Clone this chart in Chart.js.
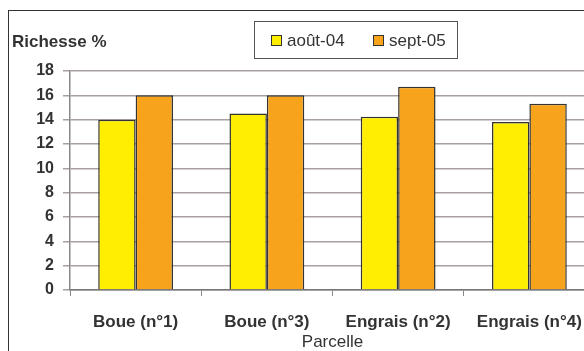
<!DOCTYPE html>
<html>
<head>
<meta charset="utf-8">
<script src="https://cdn.jsdelivr.net/npm/chart.js@4/dist/chart.umd.min.js"></script>
<style>
  body { margin: 0; overflow: hidden; background: #fff; }
  #wrap { position: relative; width: 584px; height: 351px; overflow: hidden; }
  #frame { position: absolute; left: 8px; top: 10px; width: 700px; height: 400px;
           border-left: 1px solid #333; border-top: 1px solid #333; }
  canvas { position: absolute; left: 0; top: 0; }
</style>
</head>
<body>
<div id="wrap">
  <div id="frame"></div>
  <canvas id="chart" width="620" height="351"></canvas>
</div>
<script>
const parcelles = ['Boue (n°1)', 'Boue (n°3)', 'Engrais (n°2)', 'Engrais (n°4)'];
const seriesNames = ['août-04', 'sept-05'];
const aout04 = [14.0, 14.5, 14.25, 13.8];
const sept05 = [16.0, 16.0, 16.7, 15.3];
const yTicks = [0, 2, 4, 6, 8, 10, 12, 14, 16, 18];

const FONT = "'Liberation Sans', Arial, sans-serif";
const TEXT = '#333';

// legend box + y title, drawn by hand to match the Excel look
const extras = {
  id: 'extras',
  afterDraw(chart) {
    const ctx = chart.ctx;
    ctx.save();
    ctx.fillStyle = TEXT;
    ctx.font = 'bold 17px ' + FONT;
    ctx.textBaseline = 'middle';
    ctx.textAlign = 'left';
    ctx.fillText('Richesse %', 12, 42);

    ctx.strokeStyle = '#555';
    ctx.lineWidth = 1;
    ctx.strokeRect(254.5, 21.5, 203, 37);

    ctx.font = '17px ' + FONT;
    const xs = [271, 373];
    chart.data.datasets.forEach((ds, i) => {
      ctx.fillStyle = ds.backgroundColor;
      ctx.fillRect(xs[i], 35, 10, 10);
      ctx.strokeStyle = '#333';
      ctx.strokeRect(xs[i] + 0.5, 35.5, 10, 10);
      ctx.fillStyle = TEXT;
      ctx.fillText(ds.label, xs[i] + 16, 41);
    });
    ctx.restore();
  }
};

new Chart(document.getElementById('chart').getContext('2d'), {
  type: 'bar',
  data: {
    labels: parcelles,
    datasets: [
      { label: seriesNames[0], data: aout04, backgroundColor: '#ffee00', borderColor: '#333', borderWidth: 1.5 },
      { label: seriesNames[1], data: sept05, backgroundColor: '#f7a31c', borderColor: '#333', borderWidth: 1.5 }
    ]
  },
  options: {
    responsive: false,
    animation: false,
    layout: { padding: { top: 71, right: 25, left: 0, bottom: 0 } },
    datasets: { bar: { categoryPercentage: 0.57, barPercentage: 1.0 } },
    plugins: { legend: { display: false }, tooltip: { enabled: false } },
    scales: {
      x: {
        afterFit: s => { s.height = 61; },
        grid: { drawOnChartArea: false, tickLength: 6, offset: true, color: '#888' },
        border: { color: '#777', width: 1.5 },
        ticks: { color: TEXT, font: { family: FONT, size: 17, weight: 'bold' }, padding: 16 },
        title: { display: true, text: 'Parcelle', color: TEXT, font: { family: FONT, size: 17, lineHeight: 1.0 }, padding: { top: 0, bottom: 0 } }
      },
      y: {
        min: 0,
        max: 18,
        afterFit: s => { s.width = 70; },
        afterBuildTicks: s => { s.ticks = yTicks.map(v => ({ value: v })); },
        grid: { color: '#a89f9f', lineWidth: 1.5, tickLength: 7 },
        border: { color: '#888', width: 1.5 },
        ticks: { color: TEXT, font: { family: FONT, size: 16, weight: 'bold' }, padding: 9 }
      }
    }
  },
  plugins: [extras]
});
</script>
</body>
</html>
